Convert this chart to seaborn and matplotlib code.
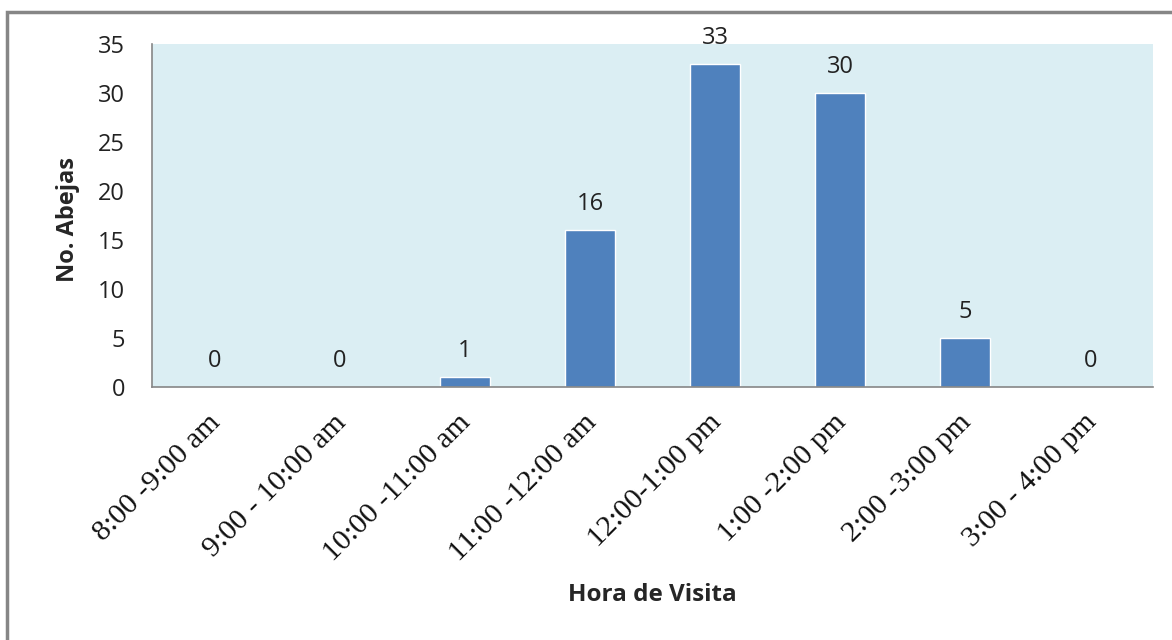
import matplotlib
matplotlib.use("Agg")
import matplotlib.pyplot as plt
import matplotlib.transforms as mtransforms
import seaborn as sns
import pandas as pd
from matplotlib.patches import Rectangle

categories = ["8:00 -9:00 am", "9:00 - 10:00 am", "10:00 -11:00 am", "11:00 -12:00 am",
              "12:00-1:00 pm", "1:00 -2:00 pm", "2:00 -3:00 pm", "3:00 - 4:00 pm"]
values = [0, 0, 1, 16, 33, 30, 5, 0]
yticks = [0, 5, 10, 15, 20, 25, 30, 35]

sns.set_theme(style="white")
plt.rcParams['font.family'] = ['Open Sans', 'DejaVu Sans']

df = pd.DataFrame({"cat": categories, "val": values})

fig = plt.figure(figsize=(11.72, 6.4), dpi=100)
W, H = 1172, 640
# outer chart border
fig.patches.append(Rectangle((7 / W, -0.1), 1.2, 1 - 12 / H + 0.1, transform=fig.transFigure,
                             fill=False, edgecolor="#868686", linewidth=2.5))
ax = fig.add_axes([152 / W, 1 - 387 / H, (1153 - 152) / W, (387 - 44) / H])
ax.set_facecolor("#DBEEF3")

sns.barplot(data=df, x="cat", y="val", color="#4F81BD", width=0.4, saturation=1, ax=ax)

ax.set_ylim(0, 35)
ax.set_xlim(-0.5, len(categories) - 0.5)
ax.set_yticks(yticks)
ax.set_yticklabels([str(t) for t in yticks], fontsize=17, color="#222222")
ax.set_xticks([i - 0.5 for i in range(len(categories) + 1)], minor=False)
ax.set_xticklabels([])
ax.set_xticks(range(len(categories)), minor=True)
ax.tick_params(axis="x", which="major", direction="out", length=6, width=1, color="#868686")
ax.tick_params(axis="x", which="minor", length=0, pad=16)
ax.tick_params(axis="y", direction="out", length=7.5, width=1, color="#868686", pad=12)
ax.set_xticklabels(categories, minor=True, rotation=45, ha="right", va="top",
                   rotation_mode="anchor",
                   family="Liberation Serif", fontsize=21.5, color="#111111")
offset = mtransforms.ScaledTranslation(-7 / 100, 0, fig.dpi_scale_trans)
for lbl in ax.get_xticklabels(minor=True):
    lbl.set_transform(lbl.get_transform() + offset)

for s in ["top", "right"]:
    ax.spines[s].set_visible(False)
for s in ["left", "bottom"]:
    ax.spines[s].set_color("#868686")
    ax.spines[s].set_linewidth(1.2)

for i, v in enumerate(values):
    ax.annotate(str(v), (i, v), xytext=(0, 10), textcoords="offset points",
                ha="center", va="bottom", fontsize=17, color="#222222")

ax.set_ylabel("")
ax.set_xlabel("")
fig.text(68 / W, 1 - 219 / H, "No. Abejas", rotation=90, ha="center", va="center",
         fontsize=17, fontweight="bold")
fig.text(652 / W, 1 - 595 / H, "Hora de Visita", ha="center", va="center",
         fontsize=17.5, fontweight="bold")

fig.savefig("out.png", dpi=100)
